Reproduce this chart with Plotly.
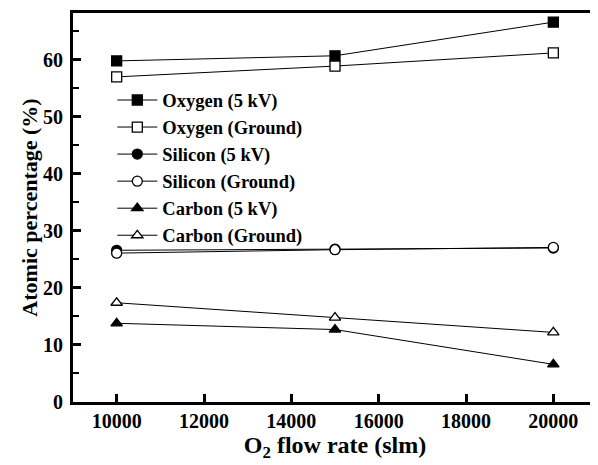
import plotly.graph_objects as go

flow = [10000, 15000, 20000]
oxygen_5kv = [59.8, 60.7, 66.6]
oxygen_ground = [57.0, 58.9, 61.2]
silicon_5kv = [26.6, 26.8, 27.0]
silicon_ground = [26.1, 26.7, 27.1]
carbon_5kv = [13.8, 12.7, 6.6]
carbon_ground = [17.4, 14.8, 12.2]
x_ticks = [10000, 12000, 14000, 16000, 18000, 20000]
y_ticks = [0, 10, 20, 30, 40, 50, 60]

series = [
    ("Oxygen (5 kV)", oxygen_5kv, "square", "black"),
    ("Oxygen (Ground)", oxygen_ground, "square", "white"),
    ("Silicon (5 kV)", silicon_5kv, "circle", "black"),
    ("Silicon (Ground)", silicon_ground, "circle", "white"),
    ("Carbon (5 kV)", carbon_5kv, "triangle-up", "black"),
    ("Carbon (Ground)", carbon_ground, "triangle-up", "white"),
]

font = "Liberation Serif, Times New Roman, serif"
fig = go.Figure()
for name, vals, sym, fill in series:
    fig.add_trace(go.Scatter(
        x=flow, y=vals, name="<b>" + name + "</b>", mode="lines+markers",
        line=dict(color="black", width=1),
        marker=dict(symbol=sym, size=10, color=fill,
                    line=dict(color="black", width=1.3)),
    ))

# page has an 8px body margin, so the figure is sized/offset to compensate
fig.update_layout(
    width=590, height=457,
    margin=dict(l=65, r=1, t=5, b=63),
    plot_bgcolor="white", paper_bgcolor="white",
    font=dict(family=font, size=18, color="black"),
    showlegend=True,
    legend=dict(x=0.075, y=0.824, xanchor="left", yanchor="top",
                bgcolor="rgba(0,0,0,0)", font=dict(family=font, size=18.5, color="black"),
                itemwidth=40, tracegroupgap=0),
    xaxis=dict(range=[9000, 21000], tickvals=x_ticks,
               ticktext=["<b>%d</b>" % v for v in x_ticks],
               ticks="inside", ticklen=8, tickwidth=2.5, tickcolor="black",
               ticklabelstandoff=-1,
               showline=True, linewidth=3, linecolor="black", mirror=True,
               showgrid=False, zeroline=False, automargin=False,
               tickfont=dict(family=font, size=20, color="black"),
               title=dict(text="<b>O<sub>2</sub> flow rate (slm)</b>", font=dict(family=font, size=24), standoff=4)),
    yaxis=dict(range=[0, 68.2], tickvals=y_ticks,
               ticktext=["<b>%d</b>" % v for v in y_ticks],
               ticks="inside", ticklen=8, tickwidth=2.5, tickcolor="black",
               ticklabelstandoff=3,
               minor=dict(dtick=5, ticks="inside", ticklen=6, tickwidth=2, tickcolor="black"),
               showline=True, linewidth=3, linecolor="black", mirror=True,
               showgrid=False, zeroline=False, automargin=False,
               tickfont=dict(family=font, size=20, color="black"),
               title=dict(text="<b>Atomic percentage (%)</b>", font=dict(family=font, size=22), standoff=0)),
)

fig.write_html("out.html")
